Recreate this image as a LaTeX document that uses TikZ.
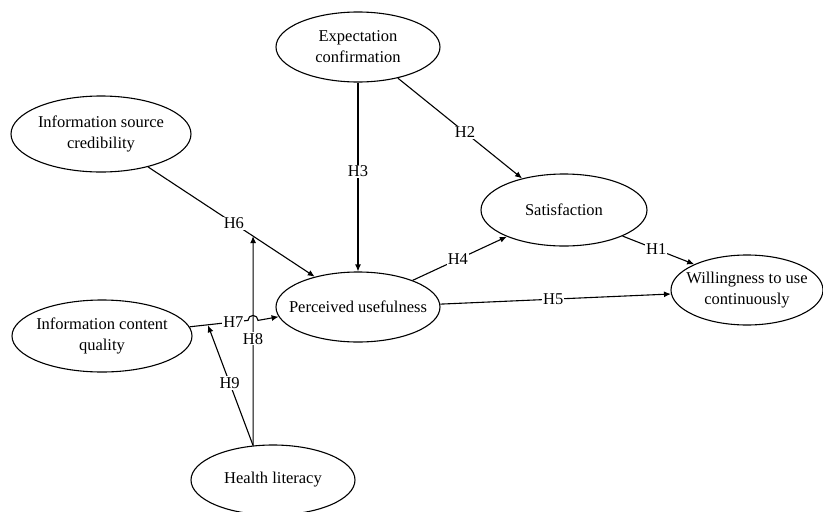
\documentclass[tikz,border=0pt]{standalone}
\usepackage{fontspec}
\setmainfont{Liberation Serif}
\usetikzlibrary{shapes.geometric,arrows.meta,calc}
\begin{document}
\begin{tikzpicture}[x=1pt,y=-1pt,
  every node/.style={font=\fontsize{16.5}{21}\selectfont},
  construct/.style={draw, ellipse, line width=1.1pt, inner sep=0pt},
  inner/.style={align=center, inner sep=0pt},
  link/.style={line width=1.1pt, -{Latex[length=7pt,width=6pt]}},
  hyp/.style={fill=white, inner sep=1pt}]
\useasboundingbox (0,0) rectangle (823,512);
\node[construct, minimum width=164pt, minimum height=70pt, label={[inner]center:Expectation\\confirmation}] (ec) at (358,47) {};
\node[construct, minimum width=180pt, minimum height=76pt, label={[inner]center:Information source\\credibility}] (isc) at (101,134) {};
\node[construct, minimum width=166pt, minimum height=72pt, label={[inner]center:Satisfaction}] (sat) at (564,210) {};
\node[construct, minimum width=164pt, minimum height=70pt, label={[inner]center:Perceived usefulness}] (pu) at (358,307) {};
\node[construct, minimum width=152pt, minimum height=70pt, label={[inner]center:Willingness to use\\continuously}] (wil) at (747,290) {};
\node[construct, minimum width=180pt, minimum height=72pt, label={[inner]center:Information content\\quality}] (icq) at (102,336) {};
\node[construct, minimum width=164pt, minimum height=70pt, label={[inner]center:Health literacy}] (hl) at (273,480) {};
% main paths
\draw[link] (ec.south) -- node[hyp, pos=0.47] {H3} (pu.north);
\draw[link] (ec.-38) -- node[hyp, pos=0.54] {H2} (sat.143);
\draw[link] (isc.-35) -- node[hyp, pos=0.515] {H6} (pu.145);
\draw[link] (pu.26) -- node[hyp, pos=0.48] {H4} (sat.205);
\draw[link] (pu.2) -- node[hyp, pos=0.49] {H5} (wil.183);
\draw[link] (sat.-24) -- node[hyp, pos=0.47] {H1} (wil.154);
% H7 with line jump over H8
\coordinate (j1) at (248,320.4);
\draw[link] (icq.6) -- node[hyp, pos=0.75] {H7} (j1) arc[start angle=180, end angle=0, radius=5pt] -- (pu.187);
% moderation
\coordinate (h8end) at ($(isc.-35)!0.63!(pu.145)$);
\coordinate (h9end) at (208,325.3);
\draw[link] (hl.120) -- node[hyp, pos=0.51] {H8} (h8end);
\draw[link] (hl.120) -- node[hyp, pos=0.52] {H9} (h9end);
\end{tikzpicture}
\end{document}
